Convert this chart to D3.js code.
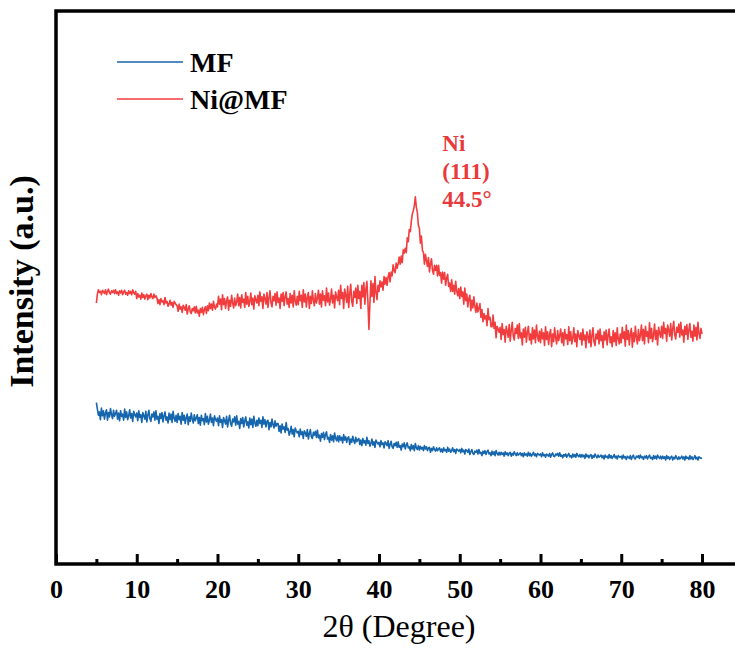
<!DOCTYPE html>
<html>
<head>
<meta charset="utf-8">
<script src="https://cdn.jsdelivr.net/npm/d3@7"></script>
<style>
  html, body { margin: 0; padding: 0; background: #fff; }
  svg { display: block; }
  svg text { font-family: "Liberation Serif", "Times New Roman", Tinos, "DejaVu Serif", serif; }
</style>
</head>
<body>
<svg id="chart" width="735" height="650"></svg>
<script>
// XRD scan grid: 5° to 80° in 0.125° steps
const scanStart = 5;
const scanStep = 0.125;

// Intensity (counts, arbitrary units), MF sample
const mfIntensity = [
  292, 280, 269, 275, 261, 282, 268, 277, 262, 273, 279, 260, 274, 266, 281, 270, 263, 278, 267, 272,
  278, 262, 273, 259, 277, 267, 271, 260, 280, 265, 275, 261, 268, 279, 264, 272, 258, 276, 270, 266,
  273, 259, 277, 265, 270, 256, 274, 268, 262, 276, 257, 269, 278, 263, 258, 271, 266, 275, 260, 277,
  262, 267, 254, 272, 263, 274, 257, 268, 275, 260, 266, 255, 273, 261, 271, 256, 276, 264, 258, 269,
  256, 272, 261, 267, 253, 274, 260, 269, 254, 265, 271, 252, 266, 258, 273, 262, 255, 270, 259, 264,
  270, 254, 265, 251, 269, 259, 263, 252, 272, 257, 267, 253, 260, 271, 256, 264, 250, 268, 262, 258,
  264, 250, 268, 256, 261, 247, 265, 259, 253, 267, 248, 260, 269, 254, 249, 262, 257, 266, 251, 268,
  253, 258, 245, 263, 254, 265, 248, 259, 266, 251, 257, 246, 264, 252, 262, 247, 267, 255, 249, 260,
  250, 264, 254, 260, 247, 266, 253, 261, 248, 258, 260, 243, 256, 248, 262, 252, 246, 259, 249, 254,
  254, 240, 250, 237, 253, 244, 248, 238, 256, 242, 245, 233, 239, 249, 235, 243, 230, 246, 241, 237,
  240, 230, 244, 234, 239, 227, 241, 237, 231, 243, 226, 236, 243, 230, 227, 238, 233, 240, 229, 242,
  228, 233, 222, 236, 229, 238, 225, 234, 239, 226, 229, 220, 234, 224, 232, 221, 237, 227, 223, 232,
  221, 232, 224, 229, 219, 234, 224, 230, 220, 228, 230, 216, 226, 220, 231, 223, 218, 229, 221, 225,
  227, 216, 224, 214, 227, 219, 223, 215, 229, 218, 223, 213, 218, 226, 215, 221, 211, 224, 220, 217,
  220, 212, 223, 216, 219, 210, 221, 218, 214, 223, 209, 216, 222, 212, 209, 218, 214, 220, 211, 221,
  211, 214, 206, 217, 212, 219, 208, 215, 219, 210, 212, 205, 216, 208, 214, 205, 218, 210, 207, 214,
  206, 213, 208, 211, 205, 214, 208, 212, 205, 210, 211, 202, 209, 205, 212, 207, 204, 210, 205, 208,
  210, 203, 208, 202, 210, 205, 207, 202, 211, 204, 208, 202, 205, 210, 203, 207, 200, 208, 206, 204,
  207, 201, 209, 203, 206, 199, 207, 205, 202, 208, 198, 203, 207, 200, 198, 204, 202, 206, 199, 207,
  200, 202, 196, 204, 200, 205, 198, 203, 206, 199, 201, 196, 204, 198, 203, 196, 205, 200, 197, 202,
  197, 202, 198, 201, 195, 203, 198, 201, 196, 200, 202, 195, 200, 197, 203, 199, 196, 201, 197, 199,
  201, 196, 200, 194, 201, 197, 199, 195, 202, 196, 200, 195, 198, 202, 196, 199, 194, 200, 198, 197,
  199, 194, 201, 196, 198, 193, 199, 197, 195, 200, 193, 198, 201, 195, 194, 199, 197, 200, 195, 201,
  195, 197, 192, 198, 195, 199, 193, 197, 200, 194, 196, 192, 199, 194, 198, 193, 200, 196, 194, 198,
  193, 198, 194, 197, 191, 199, 194, 197, 192, 196, 198, 191, 196, 193, 199, 195, 192, 197, 193, 195,
  197, 192, 196, 190, 197, 193, 195, 191, 198, 192, 196, 191, 194, 198, 192, 195, 190, 196, 194, 193,
  195, 190, 197, 192, 194, 189, 195, 193, 191, 196, 189, 194, 197, 191, 190, 195, 193, 196, 191, 197,
  192, 194, 189, 195, 192, 196, 190, 194, 197, 191, 193, 189, 196, 191, 195, 190, 197, 193, 191, 195,
  190, 195, 191, 194, 188, 196, 191, 194, 189, 193, 195, 188, 193, 190, 196, 192, 189, 194, 190, 192,
  195, 190, 194, 188, 195, 191, 193, 189, 196, 190, 194, 189, 192, 196, 190, 193, 188, 194, 192, 191,
  192
];

// Intensity (counts, arbitrary units), Ni@MF sample
const niMfIntensity = [
  472, 488, 496, 491, 493, 487, 495, 492, 489, 496, 487, 493, 497, 490, 488, 494, 491, 495, 489, 496,
  489, 492, 486, 494, 490, 495, 487, 492, 495, 488, 491, 486, 494, 489, 493, 487, 496, 490, 488, 493,
  480, 489, 483, 486, 479, 490, 482, 487, 479, 485, 488, 478, 486, 481, 489, 483, 480, 488, 482, 485,
  481, 471, 478, 469, 480, 474, 476, 469, 482, 472, 475, 466, 470, 477, 468, 473, 464, 475, 472, 469,
  467, 457, 470, 461, 465, 455, 468, 464, 459, 469, 452, 461, 467, 456, 453, 462, 458, 465, 454, 466,
  454, 459, 448, 462, 455, 464, 451, 460, 465, 453, 467, 458, 472, 462, 470, 459, 475, 465, 461, 470,
  465, 484, 470, 479, 460, 487, 469, 480, 462, 476, 483, 459, 477, 466, 486, 472, 463, 481, 467, 474,
  488, 467, 482, 463, 487, 473, 479, 464, 491, 470, 484, 466, 475, 490, 469, 481, 461, 485, 478, 472,
  486, 467, 492, 475, 483, 462, 488, 480, 470, 491, 464, 481, 494, 472, 465, 484, 476, 489, 468, 492,
  473, 481, 462, 488, 475, 491, 467, 483, 492, 470, 480, 464, 489, 472, 486, 465, 494, 476, 468, 484,
  469, 493, 476, 486, 464, 496, 474, 488, 465, 482, 491, 462, 484, 471, 494, 477, 467, 489, 472, 481,
  495, 470, 488, 465, 494, 477, 485, 467, 499, 474, 490, 468, 479, 497, 472, 486, 463, 492, 483, 476,
  495, 469, 504, 480, 491, 462, 497, 486, 473, 502, 464, 488, 506, 475, 466, 493, 482, 499, 471, 504,
  480, 493, 462, 504, 483, 509, 470, 496, 511, 475, 424, 471, 512, 484, 507, 473, 520, 491, 478, 504,
  493, 512, 501, 510, 495, 520, 506, 518, 504, 519, 527, 510, 528, 521, 541, 531, 527, 544, 535, 543,
  555, 542, 557, 545, 568, 562, 571, 563, 590, 583, 605, 601, 619, 633, 639, 648, 664, 645, 636, 612,
  607, 580, 593, 567, 564, 542, 560, 549, 538, 554, 528, 543, 552, 531, 524, 540, 531, 540, 521, 540,
  522, 527, 508, 528, 515, 527, 504, 517, 524, 502, 508, 493, 514, 493, 504, 488, 511, 494, 485, 498,
  480, 501, 484, 492, 470, 499, 476, 488, 465, 480, 486, 458, 477, 463, 483, 466, 455, 472, 456, 462,
  471, 446, 460, 438, 453, 443, 449, 431, 462, 442, 446, 429, 429, 450, 426, 437, 409, 430, 425, 419,
  428, 406, 435, 415, 424, 401, 430, 421, 410, 433, 403, 423, 437, 412, 405, 426, 417, 432, 408, 435,
  409, 418, 396, 425, 410, 428, 401, 419, 430, 405, 416, 398, 427, 407, 423, 400, 432, 412, 403, 421,
  400, 425, 407, 418, 395, 429, 406, 420, 397, 415, 424, 393, 416, 402, 427, 409, 398, 422, 404, 413,
  425, 400, 418, 395, 424, 407, 415, 397, 429, 404, 420, 398, 409, 427, 402, 416, 393, 422, 413, 406,
  418, 396, 425, 405, 414, 391, 420, 411, 400, 423, 393, 413, 427, 402, 395, 416, 407, 422, 398, 425,
  404, 413, 391, 420, 405, 423, 396, 414, 425, 400, 411, 393, 422, 402, 418, 395, 427, 407, 398, 416,
  400, 428, 408, 420, 394, 432, 406, 422, 396, 416, 426, 392, 418, 402, 430, 410, 398, 424, 404, 414,
  432, 404, 424, 398, 430, 412, 420, 400, 436, 408, 426, 402, 414, 434, 406, 422, 396, 428, 418, 410,
  430, 408, 437, 417, 426, 403, 432, 423, 412, 435, 405, 425, 439, 414, 407, 428, 419, 434, 410, 437,
  414, 423, 401, 430, 415, 433, 406, 424, 435, 410, 421, 403, 432, 412, 428, 405, 437, 417, 408, 426,
  416
];

const majorTicks = [0, 10, 20, 30, 40, 50, 60, 70, 80];
const minorTicks = [5, 15, 25, 35, 45, 55, 65, 75];
const legendLabels = ["MF", "Ni@MF"];
const peakLabels = ["Ni", "(111)", "44.5°"];
const peakAngle = 44.5;

const colors = { mf: "#1666ae", ni: "#f23d3e", peakText: "#e8393b" };

const svg = d3.select("#chart");
const frame = { left: 56, top: 11, right: 742, bottom: 564 };

const x = d3.scaleLinear().domain([0, 80]).range([56, 702]);
const y = d3.scaleLinear().domain([0, 1000]).range([frame.bottom, frame.top]);

const angle = i => scanStart + i * scanStep;

const line = d3.line()
  .x((d, i) => x(angle(i)))
  .y(d => y(d));

// data curves
[[mfIntensity, colors.mf], [niMfIntensity, colors.ni]].forEach(([series, c]) => {
  svg.append("path")
    .datum(series)
    .attr("d", line)
    .attr("fill", "none")
    .attr("stroke", c)
    .attr("stroke-width", 1.6)
    .attr("stroke-linejoin", "round");
});

// frame
svg.append("rect")
  .attr("x", frame.left)
  .attr("y", frame.top)
  .attr("width", frame.right - frame.left)
  .attr("height", frame.bottom - frame.top)
  .attr("fill", "none")
  .attr("stroke", "#000")
  .attr("stroke-width", 3.5);

// bottom axis: inward major and minor ticks
const majorAxis = d3.axisBottom(x).tickValues(majorTicks).tickSize(-10).tickPadding(16).tickFormat(d3.format("d"));
const minorAxis = d3.axisBottom(x).tickValues(minorTicks).tickSize(-5).tickFormat("");

const gMajor = svg.append("g").attr("transform", `translate(0,${frame.bottom})`).call(majorAxis);
const gMinor = svg.append("g").attr("transform", `translate(0,${frame.bottom})`).call(minorAxis);
[gMajor, gMinor].forEach(g => {
  g.attr("font-family", null);
  g.select(".domain").remove();
  g.selectAll(".tick line").attr("stroke", "#000").attr("stroke-width", 3);
});
gMajor.selectAll(".tick text")
  .attr("fill", "#000")
  .style("font-weight", "bold")
  .style("font-size", "26px");

// axis titles
svg.append("text")
  .attr("x", (frame.left + frame.right) / 2)
  .attr("y", 637)
  .attr("text-anchor", "middle")
  .style("font-size", "32px")
  .attr("fill", "#000")
  .text("2θ (Degree)");

svg.append("text")
  .attr("transform", `translate(33,${(frame.top + frame.bottom) / 2 - 6}) rotate(-90)`)
  .attr("text-anchor", "middle")
  .style("font-weight", "bold")
  .style("font-size", "34px")
  .attr("fill", "#000")
  .text("Intensity (a.u.)");

// legend
const legend = svg.append("g");
[colors.mf, colors.ni].forEach((c, i) => {
  const ly = 62 + i * 37;
  legend.append("line")
    .attr("x1", 117).attr("x2", 183)
    .attr("y1", ly).attr("y2", ly)
    .attr("stroke", c).attr("stroke-width", 1.7);
  legend.append("text")
    .attr("x", 190).attr("y", ly + 10)
    .style("font-weight", "bold")
    .style("font-size", "28px")
    .attr("fill", "#000")
    .text(legendLabels[i]);
});

// peak annotation
const peakText = svg.append("text")
  .style("font-weight", "bold")
  .style("font-size", "23px")
  .attr("fill", colors.peakText);
peakLabels.forEach((t, i) => {
  peakText.append("tspan")
    .attr("x", x(peakAngle) + 27)
    .attr("y", 151 + i * 28)
    .text(t);
});
</script>
</body>
</html>
